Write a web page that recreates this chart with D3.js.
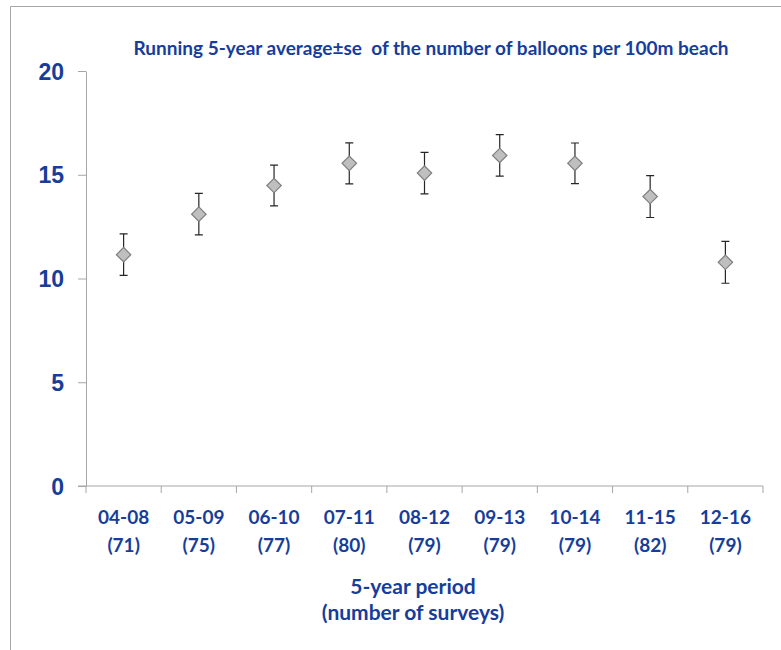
<!DOCTYPE html>
<meta charset="utf-8">
<style>
body {
  margin: 0;
  padding: 0;
  background: #fff;
  font-family: Lato, "Open Sans", sans-serif;
}
svg text {
  fill: #163d9b;
  font-weight: bold;
}
.axis path, .axis line {
  stroke: #a6a6a6;
}
</style>
<body>
<div id="chart"></div>
<script src="https://d3js.org/d3.v7.min.js"></script>
<script>

var periods = ['04-08', '05-09', '06-10', '07-11', '08-12', '09-13', '10-14', '11-15', '12-16'];
var surveys = [71, 75, 77, 80, 79, 79, 79, 82, 79];
var means = [11.15, 13.1, 14.48, 15.55, 15.08, 15.93, 15.55, 13.95, 10.78];
var errors = [1.0, 1.0, 0.98, 0.99, 1.0, 1.0, 0.98, 1.01, 1.01];
var yTicks = [0, 5, 10, 15, 20];

var width = 781, height = 650;
var margin = {top: 71, right: 18, bottom: 164, left: 86};

var svg = d3.select('#chart').append('svg')
  .attr('width', width)
  .attr('height', height);

// outer frame (only top and left edges are in view)
svg.append('path')
  .attr('d', 'M10.5,' + height + 'V6.5H' + width)
  .attr('fill', 'none')
  .attr('stroke', '#a6a6a6');

var x = d3.scaleBand()
  .domain(periods)
  .range([margin.left, width - margin.right]);

var y = d3.scaleLinear()
  .domain([0, 20])
  .range([height - margin.bottom, margin.top]);

// y axis
var yAxis = svg.append('g')
  .attr('class', 'axis')
  .attr('transform', 'translate(' + margin.left + ',0)')
  .call(d3.axisLeft(y).tickValues(yTicks).tickSize(8).tickSizeOuter(0).tickPadding(14));
yAxis.selectAll('text')
  .style('font-size', '23px')
  .attr('dy', '0.35em');

// x axis: ticks at band edges
var xAxisG = svg.append('g')
  .attr('class', 'axis')
  .attr('transform', 'translate(0,' + y(0) + ')');
xAxisG.append('line')
  .attr('x1', margin.left - 8)
  .attr('x2', width - margin.right)
  .attr('stroke', '#a6a6a6');
xAxisG.selectAll('.tick-edge')
  .data(periods.concat(['end']))
  .enter().append('line')
  .attr('class', 'tick-edge')
  .attr('x1', function (d, i) { return i < periods.length ? x(d) : x.range()[1]; })
  .attr('x2', function (d, i) { return i < periods.length ? x(d) : x.range()[1]; })
  .attr('y1', 0)
  .attr('y2', 7)
  .attr('stroke', '#a6a6a6');

var labels = xAxisG.selectAll('.xlabel')
  .data(periods)
  .enter().append('text')
  .attr('class', 'xlabel')
  .attr('text-anchor', 'middle')
  .style('font-size', '19px')
  .attr('transform', function (d) { return 'translate(' + (x(d) + x.bandwidth() / 2) + ',0)'; });
labels.append('tspan').attr('x', 0).attr('y', 38).text(function (d) { return d; });
labels.append('tspan').attr('x', 0).attr('y', 66).text(function (d, i) { return '(' + surveys[i] + ')'; });

// axis title
var xTitle = svg.append('text')
  .attr('text-anchor', 'middle')
  .style('font-size', '21px');
xTitle.append('tspan').attr('x', 413).attr('y', 594).text('5-year period');
xTitle.append('tspan').attr('x', 413).attr('y', 620).text('(number of surveys)');

// chart title
svg.append('text')
  .attr('x', 431)
  .attr('y', 55)
  .attr('text-anchor', 'middle')
  .attr('xml:space', 'preserve')
  .style('font-size', '19px')
  .text('Running 5-year average\u00b1se  of the number of balloons per 100m beach');

// error bars and markers
var pts = svg.append('g').selectAll('g')
  .data(periods)
  .enter().append('g')
  .attr('transform', function (d) { return 'translate(' + (x(d) + x.bandwidth() / 2) + ',0)'; });

pts.append('path')
  .attr('fill', 'none')
  .attr('stroke', '#262626')
  .attr('stroke-width', 1.2)
  .attr('d', function (d, i) {
    var top = y(means[i] + errors[i]), bot = y(means[i] - errors[i]);
    return 'M-4,' + top + 'H4M0,' + top + 'V' + bot + 'M-4,' + bot + 'H4';
  });

pts.append('path')
  .attr('d', d3.symbol().type(d3.symbolSquare).size(104))
  .attr('transform', function (d, i) { return 'translate(0,' + y(means[i]) + ') rotate(45)'; })
  .attr('fill', '#bfbfbf')
  .attr('stroke', '#7f7f7f')
  .attr('stroke-width', 1.2);

</script>
</body>
